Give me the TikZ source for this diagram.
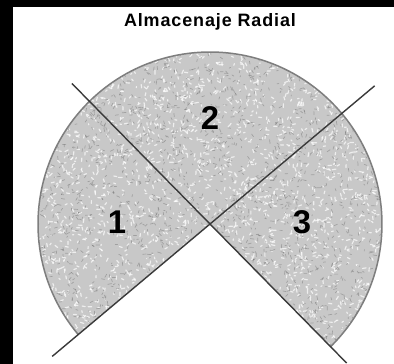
\documentclass[tikz,border=0pt]{standalone}
\usepackage{fontspec}
\setmainfont{Liberation Sans}
\usetikzlibrary{calc}
\definecolor{Stone}{HTML}{C8C8C8}
\definecolor{Rim}{HTML}{7E7E7E}
\definecolor{Cut}{HTML}{3A3A3A}
\tikzset{
  cutline/.style={draw=Cut,line width=1.4bp},
  zonelabel/.style={font=\fontsize{33}{33}\selectfont\bfseries,text=black,inner sep=0pt},
  heading/.style={font=\fontsize{18}{18}\selectfont\bfseries\addfontfeature{LetterSpace=5},text=black,inner sep=0pt},
  grainlight/.style={white,line width=1.2bp,line cap=round,opacity=0.7},
  graindark/.style={black!60,line width=0.7bp,line cap=round,opacity=0.4}
}

\begin{document}
\begin{tikzpicture}[x=1bp,y=1bp]
  \useasboundingbox (0,0) rectangle (394,364);
  \fill[white] (0,0) rectangle (394,364);
  \fill[black] (0,0) rectangle (13,364);
  \fill[black] (0,357) rectangle (394,364);

  \coordinate (O) at (210,140);
  \node[heading] (title) at (210,342) {Almacenaje Radial};

  % stucco sector
  \begin{scope}
    \clip (O) -- ($(O)+(-45.5:172)$) arc[start angle=-45.5,end angle=220,radius=172] -- cycle;
    \fill[Stone] (O) circle[radius=172];
    \pgfmathsetseed{7}
    \foreach \i in {1,...,2800}{
      \draw[grainlight] ($(O)+(rand*172,rand*172)$) -- ++(rnd*360:1+rnd*3);
    }
    \foreach \i in {1,...,2400}{
      \draw[graindark] ($(O)+(rand*172,rand*172)$) -- ++(rnd*360:1+rnd*3);
    }
  \end{scope}
  \draw[Rim,line width=1.5bp] ($(O)+(-45.5:172)$) arc[start angle=-45.5,end angle=220,radius=172];

  \coordinate (a1) at ($(O)+(134.5:197)$);
  \coordinate (a2) at ($(O)+(-45.5:195)$);
  \coordinate (b1) at ($(O)+(220:206)$);
  \coordinate (b2) at ($(O)+(40:215)$);
  \draw[cutline] (a1) -- (a2);
  \draw[cutline] (b1) -- (b2);

  \node[zonelabel] (z1) at (117,142) {1};
  \node[zonelabel] (z2) at (210,246) {2};
  \node[zonelabel] (z3) at (302,142) {3};
\end{tikzpicture}
\end{document}
